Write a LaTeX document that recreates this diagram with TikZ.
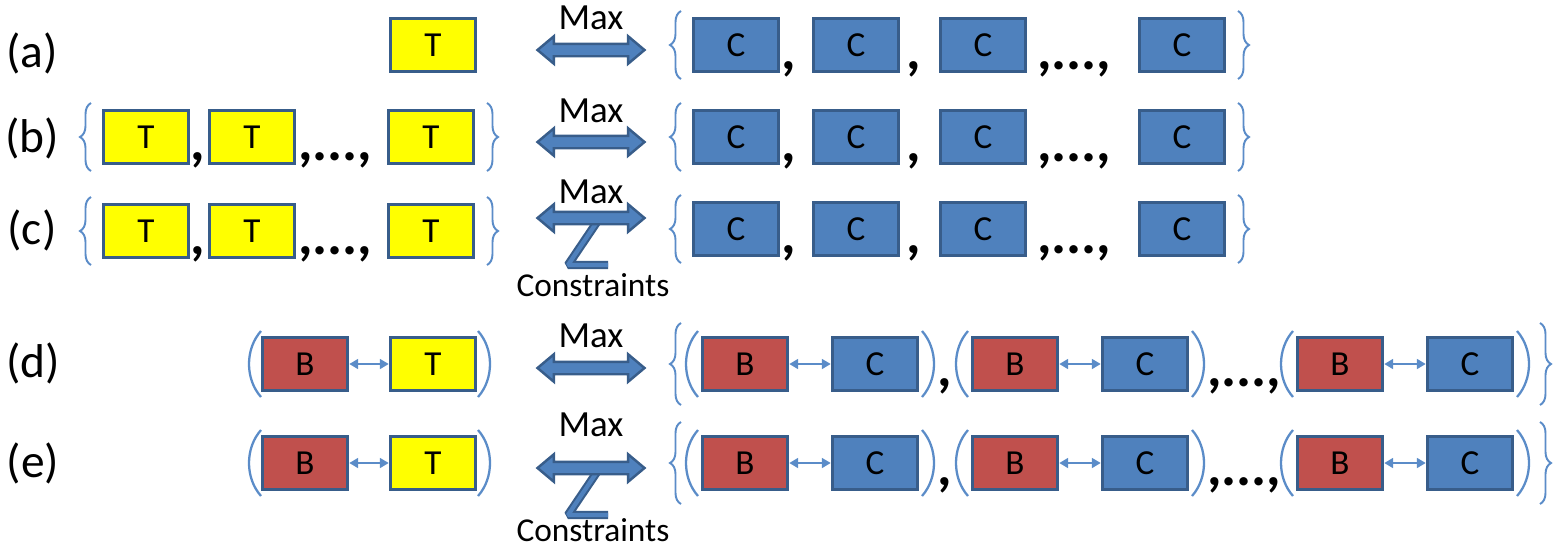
\documentclass[tikz,border=0pt]{standalone}
\usepackage{fontspec}
\setmainfont{Carlito}
\usetikzlibrary{arrows.meta,positioning,shapes.arrows,decorations.pathreplacing}

\definecolor{boxline}{HTML}{385D8A}
\definecolor{cblue}{HTML}{4F81BD}
\definecolor{bred}{HTML}{C0504D}
\definecolor{tyellow}{HTML}{FFFF00}
\definecolor{bracecol}{HTML}{5B8CC8}

\begin{document}
\begin{tikzpicture}[x=0.02cm, y=-0.02cm,
    box/.style={rectangle, draw=boxline, line width=2pt, minimum width=1.7cm,
                minimum height=1.06cm, inner sep=0pt, font=\fontsize{20}{22}\selectfont},
    tbox/.style={box, fill=tyellow},
    cbox/.style={box, fill=cblue},
    bbox/.style={box, fill=bred},
    rowlabel/.style={font=\fontsize{27}{30}\selectfont},
    sep/.style={anchor=base west, inner sep=0pt, font=\fontsize{32}{34}\selectfont\bfseries},
    maxlabel/.style={font=\fontsize{21}{24}\selectfont},
    conlabel/.style={anchor=base, inner sep=0.5pt, font=\fontsize{19}{22}\selectfont},
    bigarrow/.style={double arrow, draw=boxline, fill=cblue, line width=1.4pt,
                     minimum height=2.14cm, inner xsep=0pt, inner ysep=0.1cm,
                     double arrow head extend=0.15cm, double arrow tip angle=80},
    zedge/.style={boxline, line width=4.8pt, line join=bevel},
    zcore/.style={cblue, line width=2.4pt, line join=bevel},
    curly/.style={decorate, decoration={brace, amplitude=0.22cm}, bracecol, line width=1.1pt},
    paren/.style={bracecol, line width=1.3pt},
    link/.style={{Triangle[length=5pt,width=5.5pt]}-{Triangle[length=5pt,width=5.5pt]},
                 bracecol, line width=1.5pt}
]
\useasboundingbox (0,0) rectangle (1555,549);

% Row labels
\node[rowlabel] (la) at (32,53) {(a)};
\node[rowlabel] (lb) at (32,138) {(b)};
\node[rowlabel] (lc) at (32,230) {(c)};
\node[rowlabel] (ld) at (33,363) {(d)};
\node[rowlabel] (le) at (33,463) {(e)};

% Target side
\node[tbox] (Ta) at (433,45) {T};
\foreach \r/\y in {b/137,c/231}{
  \draw[curly] (91,\y+34) -- (91,\y-34);
  \node[tbox] (T\r1) at (146,\y) {T};
  \node[tbox] (T\r2) at (252,\y) {T};
  \node[tbox] (T\r3) at (431,\y) {T};
  \node[sep] (s\r1) at (190,\y+23) {,};
  \node[sep] (s\r2) at (298,\y+23) {,...,};
  \draw[curly] (487,\y-34) -- (487,\y+34);
}

% Candidate sets
\foreach \r/\y in {a/45,b/137,c/229}{
  \draw[curly] (681,\y+34) -- (681,\y-34);
  \node[cbox] (C\r1) at (736,\y) {C};
  \node[cbox] (C\r2) at (856,\y) {C};
  \node[cbox] (C\r3) at (983,\y) {C};
  \node[cbox] (C\r4) at (1182,\y) {C};
  \node[sep] (k\r1) at (781,\y+24) {,};
  \node[sep] (k\r2) at (906,\y+24) {,};
  \node[sep] (k\r3) at (1037,\y+24) {,...,};
  \draw[curly] (1238,\y-34) -- (1238,\y+34);
}

% Pairs
\foreach \r/\y in {d/364,e/463}{
  \node[bbox] (B\r0) at (305,\y) {B};
  \node[tbox] (T\r0) at (433,\y) {T};
  \draw[link] (B\r0) -- (T\r0);
  \draw[paren] (261,\y-33) .. controls (245,\y-15) and (245,\y+15) .. (261,\y+33);
  \draw[paren] (478,\y-33) .. controls (494,\y-15) and (494,\y+15) .. (478,\y+33);
  \draw[curly] (681,\y+41) -- (681,\y-41);
  \foreach \i/\x in {1/745,2/1015,3/1340}{
    \node[bbox] (B\r\i) at (\x,\y) {B};
    \node[cbox] (C\r\i) at (\x+130,\y) {C};
    \draw[link] (B\r\i) -- (C\r\i);
    \draw[paren] (\x-47,\y-33) .. controls (\x-63,\y-15) and (\x-63,\y+15) .. (\x-47,\y+33);
    \draw[paren] (\x+177,\y-33) .. controls (\x+193,\y-15) and (\x+193,\y+15) .. (\x+177,\y+33);
  }
  \node[sep] (k\r1) at (937,\y+22) {,};
  \node[sep] (k\r2) at (1207,\y+22) {,...,};
  \draw[curly] (1540,\y-41) -- (1540,\y+41);
}

% Constraint legs
\coordinate (zc) at (597,222);
\coordinate (ze) at (597,472);
\foreach \z in {zc,ze}{
  \draw[zedge] (\z) -- ++(-29,43) -- ++(40,0);
  \draw[zcore] (\z) -- ++(-29,43) -- ++(40,0);
}

% Max arrows
\node[bigarrow] (Aa) at (591,50) {};
\node[bigarrow] (Ab) at (591,142) {};
\node[bigarrow] (Ac) at (591,218) {};
\node[bigarrow] (Ad) at (591,368) {};
\node[bigarrow] (Ae) at (591,468) {};
\node[maxlabel] (Ma) at (591,18) {Max};
\node[maxlabel] (Mb) at (591,111) {Max};
\node[maxlabel] (Mc) at (591,192) {Max};
\node[maxlabel] (Md) at (591,336) {Max};
\node[maxlabel] (Me) at (591,425) {Max};
\node[conlabel] (Kc) at (593,296) {Constraints};
\node[conlabel] (Ke) at (593,541) {Constraints};

\end{tikzpicture}
\end{document}
